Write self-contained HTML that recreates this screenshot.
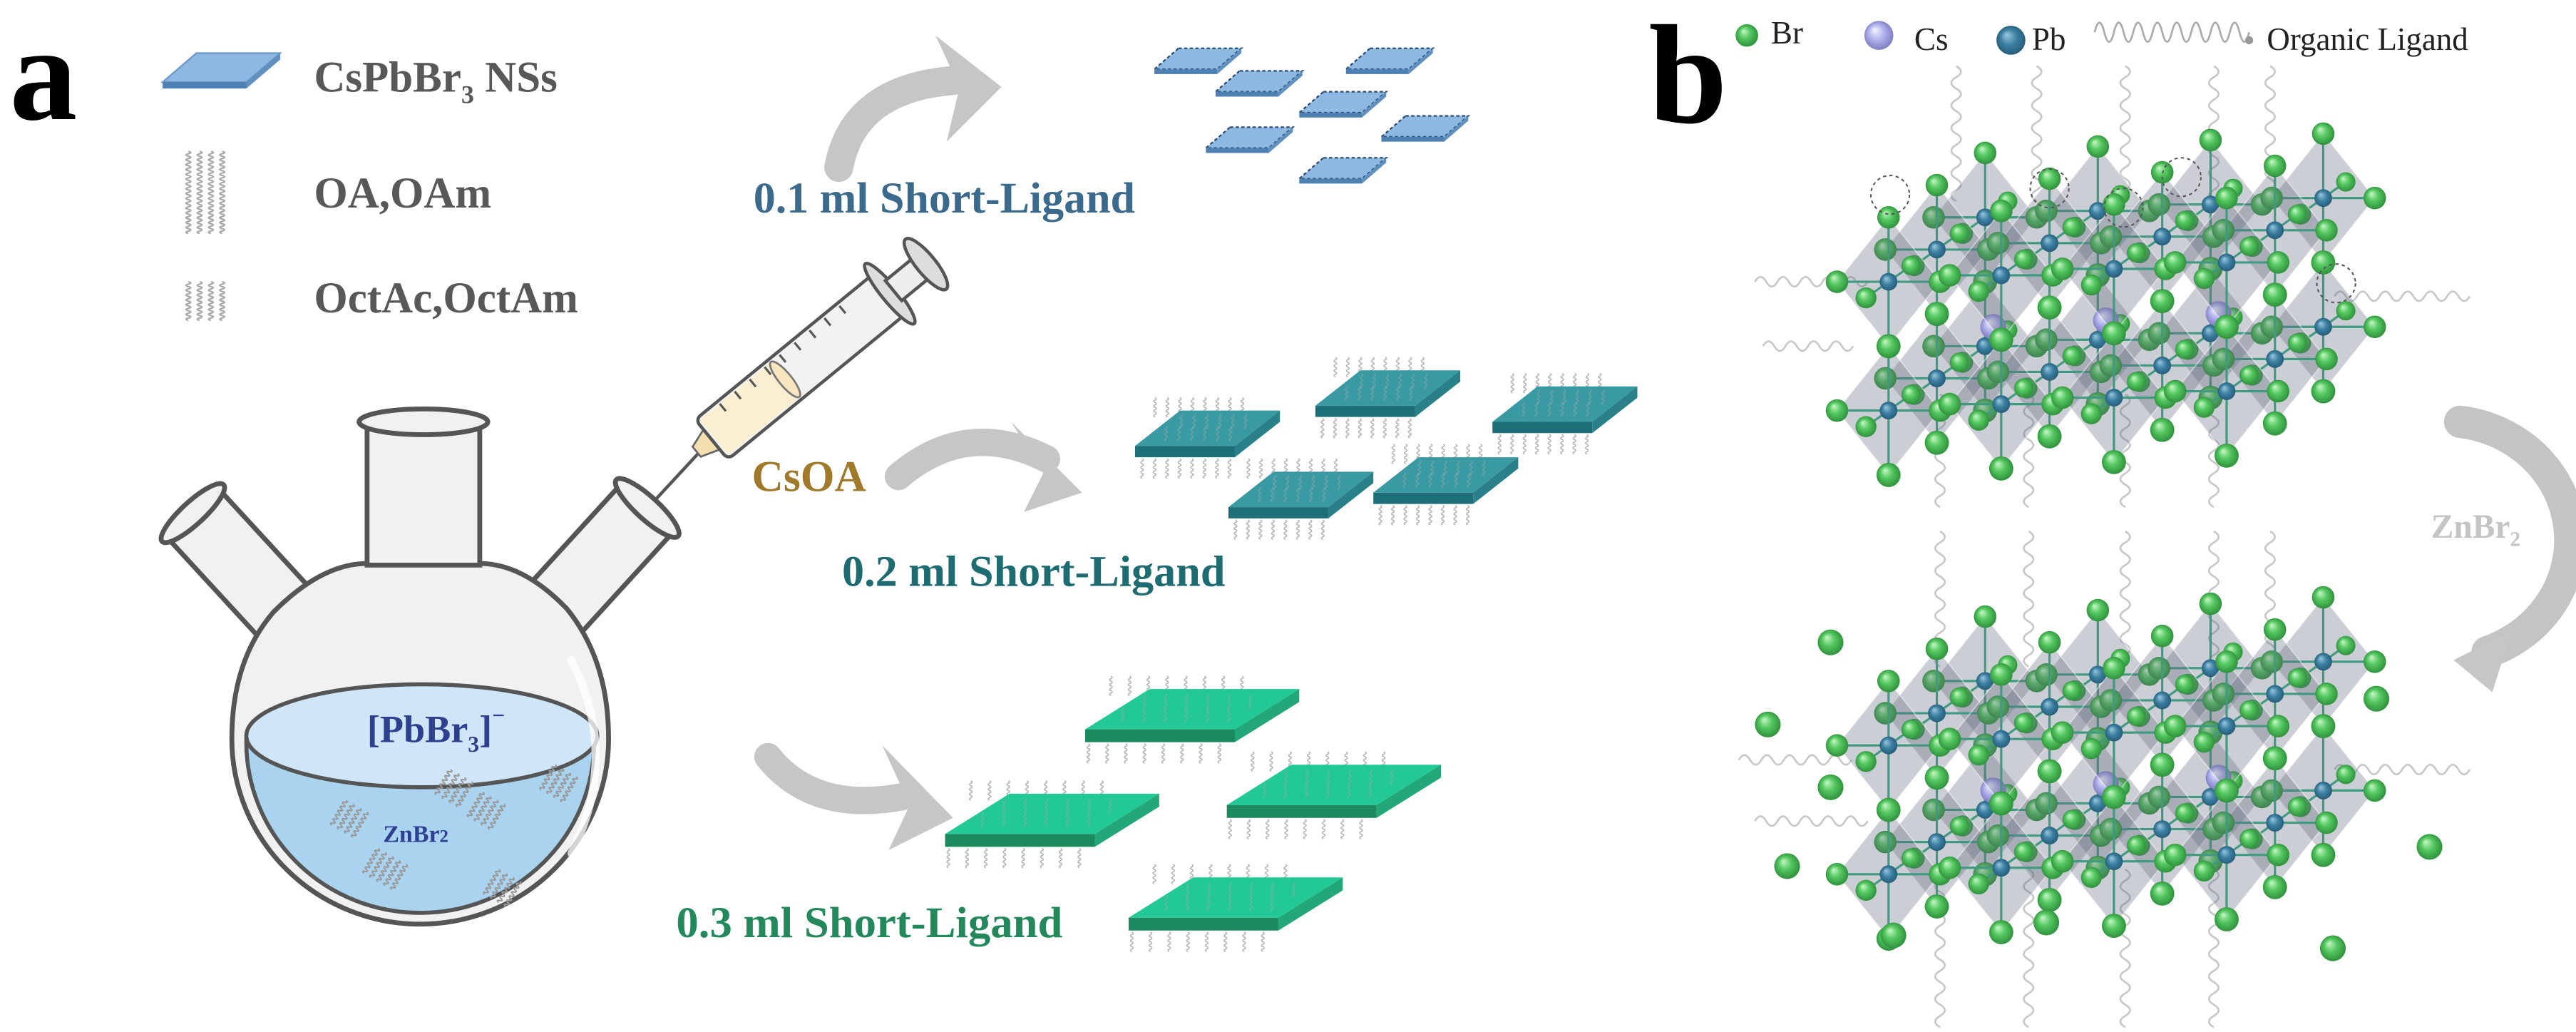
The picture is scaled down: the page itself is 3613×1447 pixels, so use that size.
<!DOCTYPE html>
<html><head><meta charset="utf-8"><style>
html,body{margin:0;padding:0;background:#fff;}
svg{display:block;}
text{font-family:"Liberation Serif",serif;font-weight:bold;}
</style></head><body>
<svg id="s" xmlns="http://www.w3.org/2000/svg" width="3613" height="1447" viewBox="0 0 1600 641" preserveAspectRatio="none">
<defs>
<radialGradient id="gB" cx="50%" cy="50%" r="55%" fx="35%" fy="30%"><stop offset="0" stop-color="#c8f8c8"/><stop offset=".45" stop-color="#55c860"/><stop offset="1" stop-color="#2a8a38"/></radialGradient>
<radialGradient id="gC" cx="50%" cy="50%" r="55%" fx="35%" fy="30%"><stop offset="0" stop-color="#f4f4ff"/><stop offset=".5" stop-color="#b0b0ec"/><stop offset="1" stop-color="#7676bc"/></radialGradient>
<radialGradient id="gP" cx="50%" cy="50%" r="55%" fx="35%" fy="30%"><stop offset="0" stop-color="#9cc8de"/><stop offset=".5" stop-color="#3c80a2"/><stop offset="1" stop-color="#235873"/></radialGradient>
<clipPath id="liq"><rect x="100" y="457" width="330" height="150"/></clipPath>
</defs>

<text x="6" y="74" font-size="84" fill="#000">a</text>
<text x="1024" y="76" font-size="88" fill="#000">b</text>

<polygon points="101,51 122,33 174,33 153,51" fill="#8db8e2" stroke="#6a98c8" stroke-width="1"/>
<polygon points="101,51 153,51 153,55 101,55" fill="#4f80b2"/>
<polygon points="153,51 174,33 174,37 153,55" fill="#5f90c0"/>
<text x="195" y="57" font-size="27" fill="#585858">CsPbBr<tspan font-size="16" dy="7">3</tspan><tspan dy="-7"> NSs</tspan></text>
<g id="legsq" fill="none" stroke="#aaa" stroke-width="1"></g>
<text x="195" y="129" font-size="27" fill="#585858">OA,OAm</text>
<text x="195" y="194" font-size="27" fill="#585858">OctAc,OctAm</text>

<g fill="none" stroke="#c6c6c6" stroke-linecap="round">
<path d="M521,104 Q530,55 592,50" stroke-width="18"/>
<path d="M558,296 Q600,260 650,285" stroke-width="17"/>
<path d="M477,470 Q505,505 560,495" stroke-width="17"/>
<path d="M1528,262 A78,74 0 0 1 1545,405" stroke-width="20" stroke="#c4c4c4"/>
</g>
<g fill="#c6c6c6">
<polygon points="581,22 622,54 588,88 596,54"/>
<polygon points="628,262 672,306 636,318 648,294"/>
<polygon points="548,463 592,508 552,528 565,500"/>
<polygon points="1560,392 1548,430 1524,410"/>
</g>
<text x="1510" y="334" font-size="21" fill="#c4c4c4">ZnBr<tspan font-size="13" dy="5">2</tspan></text>

<text x="468" y="132" font-size="27" fill="#3c6a8c" textLength="237" lengthAdjust="spacingAndGlyphs">0.1 ml Short-Ligand</text>
<text x="523" y="364" font-size="27" fill="#1f6b72" textLength="238" lengthAdjust="spacingAndGlyphs">0.2 ml Short-Ligand</text>
<text x="420" y="582" font-size="27" fill="#23895d" textLength="240" lengthAdjust="spacingAndGlyphs">0.3 ml Short-Ligand</text>
<text x="467" y="305" font-size="27" fill="#a07a2a" textLength="71" lengthAdjust="spacingAndGlyphs">CsOA</text>

<g id="plates"></g>

<line x1="388" y1="331" x2="438" y2="277" stroke="#555" stroke-width="2"/>
<g transform="translate(442,273) rotate(-39.3)">
<polygon points="-12,-4 0,-8 0,8 -12,4" fill="#f3dfae" stroke="#666" stroke-width="1.2"/>
<rect x="0" y="-16" width="143" height="32" rx="4" fill="#f2f2f2" stroke="#555" stroke-width="2"/>
<rect x="2" y="-14" width="57" height="28" fill="#fbefd2"/>
<ellipse cx="59" cy="0" rx="4" ry="14" fill="#f7e6bf" stroke="#777" stroke-width="1.2"/>
<g stroke="#555" stroke-width="1.4">
<line x1="18" y1="-14" x2="18" y2="-8"/><line x1="30" y1="-14" x2="30" y2="-8"/><line x1="42" y1="-14" x2="42" y2="-8"/><line x1="54" y1="-14" x2="54" y2="-8"/><line x1="66" y1="-14" x2="66" y2="-8"/><line x1="78" y1="-14" x2="78" y2="-8"/><line x1="90" y1="-14" x2="90" y2="-8"/><line x1="102" y1="-14" x2="102" y2="-8"/><line x1="114" y1="-14" x2="114" y2="-8"/>
</g>
<ellipse cx="143" cy="0" rx="5" ry="24" fill="#ddd" stroke="#555" stroke-width="2"/>
<rect x="146" y="-8" width="22" height="16" fill="#eee" stroke="#555" stroke-width="2"/>
<ellipse cx="172" cy="0" rx="6" ry="20" fill="#ddd" stroke="#555" stroke-width="2"/>
</g>

<g stroke="#555" stroke-width="3" fill="#f1f1f1">
<g transform="translate(178,382) rotate(-132.6)">
<rect x="0" y="-22" width="86" height="44"/>
<ellipse cx="86" cy="0" rx="7" ry="26"/>
</g>
<g transform="translate(344,379) rotate(-47.6)">
<rect x="0" y="-22" width="86" height="44"/>
<ellipse cx="86" cy="0" rx="7" ry="26"/>
</g>
<path d="M170,380 Q200,350 228,350 L298,350 Q325,350 352,378 Q378,410 378,459 A117,115 0 0 1 144,459 Q144,410 170,380 Z"/>
<rect x="228" y="263" width="70" height="88"/>
<ellipse cx="263" cy="262" rx="40" ry="8"/>
</g>
<ellipse cx="261" cy="461" rx="108" ry="106" fill="#a9d3ef" stroke="#555" stroke-width="2.5" clip-path="url(#liq)"/>
<ellipse cx="262" cy="457" rx="109" ry="32" fill="#cfe5f8" stroke="#555" stroke-width="2.5"/>
<path d="M355,410 Q385,470 355,530" fill="none" stroke="#fff" stroke-width="5" opacity=".75" stroke-linecap="round"/>
<g id="flasksq" fill="none" stroke="#999" stroke-width=".9"></g>
<text x="228" y="461" font-size="24" fill="#2d3f8e">[PbBr<tspan font-size="14" dy="6">3</tspan><tspan dy="-6">]</tspan><tspan font-size="14" dy="-12">−</tspan></text>
<text x="238" y="523" font-size="15" fill="#2d3f8e">ZnBr<tspan font-size="11">2</tspan></text>

<circle cx="1085" cy="22" r="7" fill="url(#gB)"/>
<text x="1100" y="27" font-size="20" fill="#222" style="font-weight:normal">Br</text>
<circle cx="1167" cy="22" r="9" fill="url(#gC)"/>
<text x="1189" y="31" font-size="20" fill="#222" style="font-weight:normal">Cs</text>
<circle cx="1249" cy="25" r="9" fill="url(#gP)"/>
<text x="1262" y="31" font-size="20" fill="#222" style="font-weight:normal">Pb</text>
<path id="legw" fill="none" stroke="#aaa" stroke-width="1.2"/>
<circle cx="1397" cy="25" r="2.5" fill="#999"/>
<text x="1408" y="31" font-size="20" fill="#222" style="font-weight:normal" textLength="125" lengthAdjust="spacingAndGlyphs">Organic Ligand</text>

<g id="lig" fill="none" stroke="#c8c8c8" stroke-width="1.2"></g>
<g id="cry"></g>
</svg>
<script>
function add(id,html){document.getElementById(id).insertAdjacentHTML('beforeend',html);}
function squig(x,y,h,amp){var d='M'+x+','+y;for(var t=0;t<h;t+=3){d+=' Q'+(x+amp)+','+(y+t+0.75)+' '+x+','+(y+t+1.5)+' Q'+(x-amp)+','+(y+t+2.25)+' '+x+','+(y+t+3);}return d;}
var s='';
for(var i=0;i<4;i++){s+='<path d="'+squig(117+i*7,94,50,3)+'"/>';}
for(var i=0;i<4;i++){s+='<path d="'+squig(117+i*7,175,24,3)+'"/>';}
add('legsq',s);
s='';
[[215,497,4],[235,527,5],[280,478,4],[300,492,4],[310,540,4],[345,475,4]].forEach(function(p){for(var i=0;i<p[2];i++)s+='<path transform="rotate(30 '+p[0]+' '+p[1]+')" d="'+squig(p[0]+i*5,p[1],16,2.5)+'"/>';});
add('flasksq',s);
function plate(x0,y0,bw,bh,sk,d,top,front,side,dash,lig){
 var o='';
 if(lig){for(var i=0;i<8;i++){var xx=x0+sk*0.3+i*(bw-sk)/8+4;o+='<path fill="none" stroke="#bbb" stroke-width=".8" d="'+squig(xx,y0-8,10,1.6)+'"/>';o+='<path fill="none" stroke="#bbb" stroke-width=".8" d="'+squig(xx-sk*0.5+6,y0+bh+1,10,1.6)+'"/>';}}
 var yb=y0+bh-d;
 o+='<polygon points="'+(x0+sk)+','+y0+' '+(x0+bw)+','+y0+' '+(x0+bw-sk)+','+yb+' '+x0+','+yb+'" fill="'+top+'"'+(dash?' stroke="#2a4a70" stroke-width="1" stroke-dasharray="2,1.5"':'')+'/>';
 o+='<polygon points="'+x0+','+yb+' '+(x0+bw-sk)+','+yb+' '+(x0+bw-sk)+','+(y0+bh)+' '+x0+','+(y0+bh)+'" fill="'+front+'"/>';
 o+='<polygon points="'+(x0+bw-sk)+','+yb+' '+(x0+bw)+','+y0+' '+(x0+bw)+','+(y0+d)+' '+(x0+bw-sk)+','+(y0+bh)+'" fill="'+side+'"/>';
 if(lig){for(var r=0;r<2;r++)for(var i=0;i<6;i++){var f=(r+1)/3;var xx=x0+sk*(1-f)+10+i*(bw-sk-14)/6;o+='<path fill="none" stroke="#9aa" stroke-opacity=".45" stroke-width=".8" d="'+squig(xx,y0+(bh-d)*f-5,8,1.4)+'"/>';}}
 return o;
}
s='';
[[717,30],[755,44],[836,30],[807,57],[749,79],[858,72],[807,98]].forEach(function(p){s+=plate(p[0],p[1],54,16,15,3,'#8db8e2','#4f80b2','#5f90c0',true,false);});
[[705,255],[817,230],[927,240],[763,293],[853,284]].forEach(function(p){s+=plate(p[0],p[1],90,29,28,7,'#3a9aa3','#1d6f77','#2a8088',false,true);});
[[674,428],[587,493],[762,475],[701,545]].forEach(function(p){s+=plate(p[0],p[1],133,33,40,8,'#22c995','#1b8a5f','#22a878',false,true);});
add('plates',s);
var d='M1301,20';for(var x=1301;x<1394;x+=12){d+=' q3,-12 6,0 q3,12 6,0';}
document.getElementById('legw').setAttribute('d',d);
function vw(x,y1,y2){var d='M'+x+','+y1;for(var y=y1;y<y2;y+=14){d+=' q6,3.5 0,7 q-6,3.5 0,7';}return '<path d="'+d+'"/>';}
function hw(x1,x2,y){var d='M'+x1+','+y;for(var x=x1;x<x2;x+=14){d+=' q3.5,-6 7,0 q3.5,6 7,0';}return '<path d="'+d+'"/>';}
s='';
[1215,1265,1320,1375,1410].forEach(function(x){s+=vw(x,41,125);});
[1205,1260,1320,1375].forEach(function(x){s+=vw(x,245,311);});
[1205,1260,1320,1375,1410].forEach(function(x){s+=vw(x,330,410);});
[1205,1260,1320,1375].forEach(function(x){s+=vw(x,540,630);});
s+=hw(1090,1150,175)+hw(1095,1150,215)+hw(1450,1525,184);
s+=hw(1080,1150,472)+hw(1090,1150,510)+hw(1450,1525,478);
add('lig',s);
function crystal(ox,oy){
 var o='',A=70,R=80,DX=30,DY=-20,HW=32,HH=40;
 for(var k=2;k>=0;k--){
  var dia='',ln='',bl='';
  for(var j=0;j<2;j++)for(var i=0;i<4;i++){
   var x=ox+i*A+k*DX,y=oy-j*R+k*DY-i*4;
   dia+='<polygon points="'+x+','+(y-HH)+' '+(x+HW)+','+y+' '+x+','+(y+HH)+' '+(x-HW)+','+y+'" fill="rgba(95,104,125,0.32)" stroke="rgba(255,255,255,0.45)" stroke-width=".8"/>';
   ln+='<path d="M'+(x-HW)+','+y+'H'+(x+HW)+'M'+x+','+(y-HH)+'V'+(y+HH)+'M'+(x-14)+','+(y+10)+'L'+(x+14)+','+(y-10)+'" stroke="#3f9a80" stroke-width="1.4"/>';
   ln+='<path d="M'+(x+HW)+','+y+'H'+(x+A-HW)+'" stroke="#3f9a6a" stroke-width="1.2"/>';
   [[x,y-HH,7],[x,y+HH,7.5],[x-HW,y,7],[x+HW,y,7],[x+14,y-10,6],[x-14,y+10,6.5]].forEach(function(b){bl+='<circle cx="'+b[0]+'" cy="'+b[1]+'" r="'+b[2]+'" fill="url(#gB)"/>';});
   bl+='<circle cx="'+x+'" cy="'+y+'" r="5.5" fill="url(#gP)"/>';
   if(k==1&&j==0&&i<3){bl+='<circle cx="'+(x+A/2)+'" cy="'+(y-R/2+8)+'" r="8" fill="url(#gC)"/>';}
  }
  o+=dia+ln+bl;
 }
 return o;
}
s=crystal(1173,255)+crystal(1173,543);
[[1174,121],[1273,117],[1355,110],[1319,129],[1451,176]].forEach(function(c){s+='<circle cx="'+c[0]+'" cy="'+c[1]+'" r="12" fill="none" stroke="#555" stroke-width=".9" stroke-dasharray="2,2"/>';});
[[1137,399],[1098,450],[1137,489],[1110,538],[1176,581],[1271,573],[1449,589],[1476,434],[1509,526]].forEach(function(c){s+='<circle cx="'+c[0]+'" cy="'+c[1]+'" r="8" fill="url(#gB)"/>';});
add('cry',s);
</script>
</body></html>
